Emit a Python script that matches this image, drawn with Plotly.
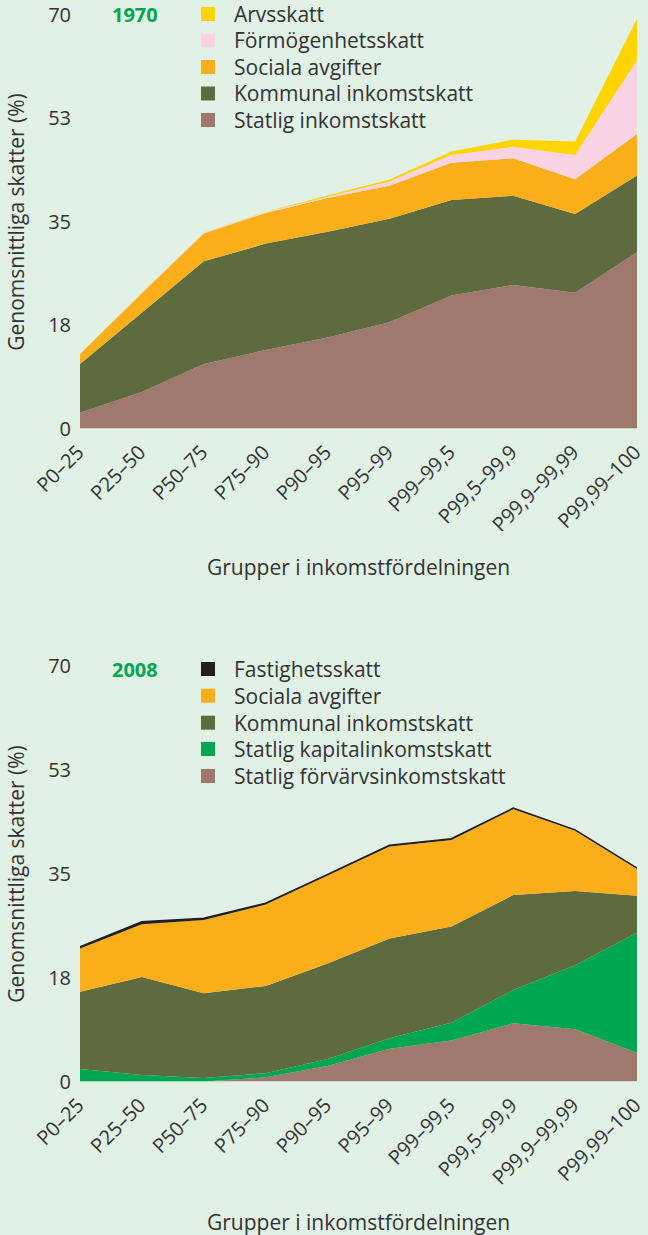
import plotly.graph_objects as go

categories = ["P0–25", "P25–50", "P50–75", "P75–90", "P90–95", "P95–99",
              "P99–99,5", "P99,5–99,9", "P99,9–99,99", "P99,99–100"]

# 1970, stacked bottom -> top
statlig_1970 = [2.65, 6.2, 10.9, 13.3, 15.4, 18.0, 22.5, 24.3, 23.0, 29.85]
kommunal_1970 = [8.25, 13.4, 17.4, 18.0, 17.9, 17.5, 16.2, 15.1, 13.3, 13.0]
sociala_1970 = [1.7, 3.3, 4.7, 5.2, 5.7, 5.6, 6.3, 6.35, 5.9, 7.0]
formogenhet_1970 = [0.05, 0.1, 0.1, 0.15, 0.25, 0.7, 1.3, 1.95, 4.1, 12.5]
arv_1970 = [0.0, 0.03, 0.05, 0.05, 0.2, 0.35, 0.6, 1.2, 2.3, 7.0]

# 2008, stacked bottom -> top
statlig_forv_2008 = [0.0, 0.0, 0.0, 0.7, 2.6, 5.5, 6.9, 9.8, 8.8, 4.85]
statlig_kap_2008 = [2.1, 1.1, 0.6, 0.7, 1.2, 1.8, 3.0, 5.6, 10.8, 20.2]
kommunal_2008 = [13.0, 16.5, 14.25, 14.7, 16.1, 16.8, 16.2, 16.0, 12.5, 6.25]
sociala_2008 = [7.3, 8.9, 12.35, 13.7, 14.8, 15.5, 14.6, 14.5, 10.2, 4.6]
fastighet_2008 = [0.3, 0.4, 0.3, 0.25, 0.2, 0.2, 0.2, 0.15, 0.1, 0.05]

names_1970 = ["Statlig inkomstskatt", "Kommunal inkomstskatt", "Sociala avgifter",
              "Förmögenhetsskatt", "Arvsskatt"]
series_1970 = [statlig_1970, kommunal_1970, sociala_1970, formogenhet_1970, arv_1970]
colors_1970 = ["#9F786E", "#5E6B3E", "#FAAE1A", "#F9D3E3", "#FFD400"]

names_2008 = ["Statlig förvärvsinkomstskatt", "Statlig kapitalinkomstskatt",
              "Kommunal inkomstskatt", "Sociala avgifter", "Fastighetsskatt"]
series_2008 = [statlig_forv_2008, statlig_kap_2008, kommunal_2008, sociala_2008, fastighet_2008]
colors_2008 = ["#9F786E", "#00A651", "#5E6B3E", "#FAAE1A", "#231F20"]

y_tickvals = [0, 17.5, 35, 52.5, 70]
y_ticktext = ["0", "18", "35", "53", "70"]
years = ["1970", "2008"]
y_title = "Genomsnittliga skatter (%)"
x_title = "Grupper i inkomstfördelningen"

W, H = 648, 1235
BG = "#E1F1E6"
TXT = "#333333"
FONT = "Open Sans"
FS = 21


def px(x):
    return x / W


def py(y):
    return 1 - y / H


fig = go.Figure()

for names, series, colors, xa, ya, grp in [
    (names_1970, series_1970, colors_1970, "x", "y", "a"),
    (names_2008, series_2008, colors_2008, "x2", "y2", "b"),
]:
    for name, vals, col in zip(names, series, colors):
        is_black = col == "#231F20"
        fig.add_trace(go.Scatter(
            x=categories, y=vals, name=name, mode="lines",
            stackgroup=grp, fillcolor=col,
            line=dict(width=1.5 if is_black else 0, color=col),
            xaxis=xa, yaxis=ya, showlegend=False,
            hovertemplate="%{x}: %{y}<extra>" + name + "</extra>",
        ))

xdom = [px(80), px(637)]
panels = [
    dict(top=15, bottom=428.5, xt=567, legend_y=[14, 40.5, 67, 93.5, 120],
         names=names_1970, colors=colors_1970),
    dict(top=666, bottom=1081.5, xt=1222, legend_y=[669, 695.7, 722.7, 749, 776],
         names=names_2008, colors=colors_2008),
]

axis_common_x = dict(
    domain=xdom, type="category", range=[0, 9], showgrid=False, zeroline=False,
    showline=False, ticks="", tickangle=-45, automargin=False,
    ticklabelstandoff=7, ticklabelshift=-2,
    tickfont=dict(family=FONT, size=20, color=TXT),
)
axis_common_y = dict(
    range=[0, 70], tickvals=y_tickvals, ticktext=y_ticktext, showgrid=False,
    zeroline=False, showline=False, ticks="", ticklabelstandoff=8, automargin=False,
    tickfont=dict(family=FONT, size=20, color=TXT),
)

fig.update_layout(
    template="none",
    width=W, height=H, margin=dict(l=0, r=0, t=0, b=0, pad=0),
    paper_bgcolor=BG, plot_bgcolor=BG, showlegend=False,
    font=dict(family=FONT, color=TXT),
    xaxis=dict(**axis_common_x, anchor="y"),
    yaxis=dict(**axis_common_y, domain=[py(panels[0]["bottom"]), py(panels[0]["top"])], anchor="x"),
    xaxis2=dict(**axis_common_x, anchor="y2"),
    yaxis2=dict(**axis_common_y, domain=[py(panels[1]["bottom"]), py(panels[1]["top"])], anchor="x2"),
)

annotations = []
shapes = []
for p, yr in zip(panels, years):
    annotations.append(dict(
        text="<b>" + yr + "</b>", x=px(135), y=py(p["legend_y"][0]), xref="paper", yref="paper",
        xanchor="center", yanchor="middle", showarrow=False,
        font=dict(family=FONT, size=20, color="#00A651"),
    ))
    annotations.append(dict(
        text=y_title, x=px(16), y=py((p["top"] + p["bottom"]) / 2), xref="paper", yref="paper",
        xanchor="center", yanchor="middle", textangle=-90, showarrow=False,
        font=dict(family=FONT, size=FS, color=TXT),
    ))
    annotations.append(dict(
        text=x_title, x=px(358), y=py(p["xt"]), xref="paper", yref="paper",
        xanchor="center", yanchor="middle", showarrow=False,
        font=dict(family=FONT, size=FS, color=TXT),
    ))
    # legend: top entry is the top of the stack
    for ly, name, col in zip(p["legend_y"], list(reversed(p["names"])), list(reversed(p["colors"]))):
        shapes.append(dict(
            type="rect", xref="paper", yref="paper",
            x0=px(201), x1=px(215), y0=py(ly + 7), y1=py(ly - 7),
            fillcolor=col, line=dict(width=0),
        ))
        annotations.append(dict(
            text=name, x=px(232), y=py(ly), xref="paper", yref="paper",
            xanchor="left", yanchor="middle", showarrow=False,
            font=dict(family=FONT, size=FS, color=TXT),
        ))

fig.update_layout(annotations=annotations, shapes=shapes)

fig.write_html("out.html", config={"displayModeBar": False},
               post_script="document.body.style.margin='0';")
